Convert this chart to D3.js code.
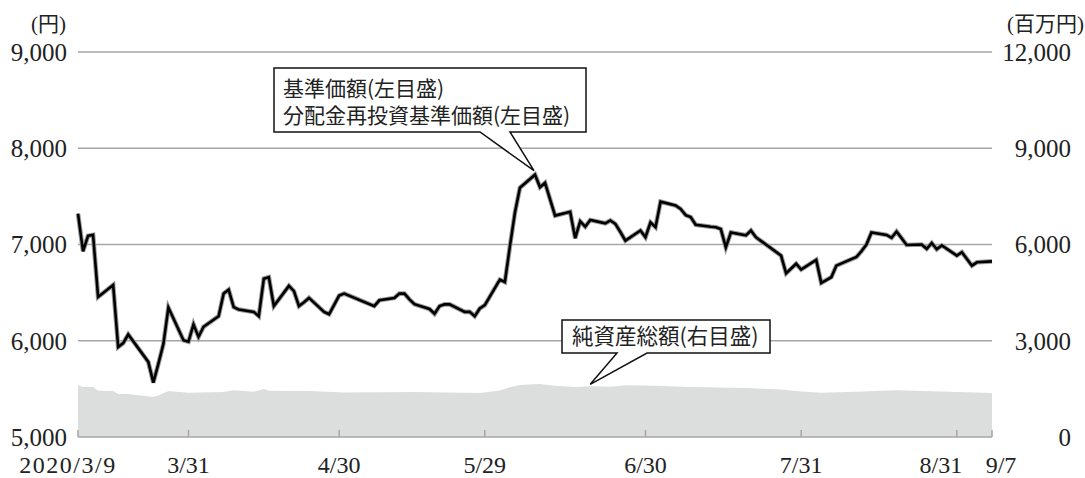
<!DOCTYPE html>
<meta charset="utf-8">
<script src="https://d3js.org/d3.v7.min.js"></script>
<style>
  body { margin: 0; background: #fff; }
</style>
<div id="chart"></div>
<script>

// 基準価額 (円), business days 2020
var navDates = ["3/9","3/10","3/11","3/12","3/13","3/16","3/17","3/18","3/19","3/23","3/24","3/25","3/26","3/27","3/30","3/31",
  "4/1","4/2","4/3","4/6","4/7","4/8","4/9","4/10","4/13","4/14","4/15","4/16","4/17","4/20","4/21","4/22","4/23","4/24","4/27","4/28","4/30",
  "5/1","5/7","5/8","5/11","5/12","5/13","5/14","5/15","5/18","5/19","5/20","5/21","5/22","5/25","5/26","5/27","5/28","5/29",
  "6/1","6/2","6/3","6/4","6/5","6/8","6/9","6/10","6/11","6/12","6/15","6/16","6/17","6/18","6/19","6/22","6/23","6/24","6/25","6/26","6/29","6/30",
  "7/1","7/2","7/3","7/6","7/7","7/8","7/9","7/10","7/13","7/14","7/15","7/16","7/17","7/20","7/21","7/22","7/27","7/28","7/29","7/30","7/31",
  "8/3","8/4","8/5","8/6","8/7","8/11","8/12","8/13","8/14","8/17","8/18","8/19","8/20","8/21","8/24","8/25","8/26","8/27","8/28","8/31",
  "9/1","9/2","9/3","9/4","9/7"];
var navValues = [7320,6930,7090,7100,6455,6580,5935,5975,6065,5780,5565,5760,5965,6345,6005,5990,
  6170,6040,6145,6255,6490,6530,6350,6325,6300,6255,6645,6660,6360,6570,6515,6360,6400,6445,6300,6275,6470,
  6490,6360,6420,6445,6490,6490,6430,6380,6330,6280,6360,6378,6378,6300,6300,6255,6335,6370,
  6635,6610,6980,7330,7590,7725,7595,7640,7470,7300,7340,7065,7240,7185,7255,7220,7250,7215,7130,7040,7145,7075,
  7230,7180,7445,7405,7370,7305,7285,7205,7185,7180,7160,6970,7125,7095,7145,7075,6885,6700,6750,6800,6740,
  6840,6600,6630,6660,6780,6870,6930,7000,7125,7100,7070,7135,7065,6995,7000,6955,7015,6950,6990,6885,
  6920,6850,6780,6815,6825];

// 純資産総額 (百万円)
var assetDates = ["3/9","3/10","3/12","3/13","3/16","3/17","3/19","3/24","3/25","3/27","3/31","4/7","4/9","4/13","4/15","4/16","4/24",
  "5/1","5/15","5/28","6/1","6/3","6/5","6/9","6/12","6/16","6/19","6/23","6/26","7/2","7/9","7/20","7/27","7/31",
  "8/4","8/11","8/19","8/31","9/7"];
var assetValues = [1620,1560,1560,1440,1430,1340,1340,1250,1290,1430,1380,1400,1460,1410,1500,1440,1430,
  1390,1400,1370,1450,1550,1620,1650,1600,1560,1580,1570,1610,1600,1560,1530,1480,1420,
  1380,1410,1460,1400,1370];

var tickDates = ["3/9","3/31","4/30","5/29","6/30","7/31","8/31","9/7"];
var tickLabels = ["2020/3/9","3/31","4/30","5/29","6/30","7/31","8/31","9/7"];
var leftTicks = [5000,6000,7000,8000,9000];
var rightTicks = [0,3000,6000,9000,12000];

var parseDay = function(s) { var p = s.split("/"); return new Date(2020, +p[0] - 1, +p[1]); };

var W = 1085, H = 478;
var svg = d3.select("#chart").append("svg").attr("width", W).attr("height", H);

var x = d3.scaleTime().domain([parseDay("3/9"), parseDay("9/7")]).range([78, 992]);
var yL = d3.scaleLinear().domain([5000, 9000]).range([437, 52]);
var yR = d3.scaleLinear().domain([0, 12000]).range([437, 52]);

var nav = navDates.map(function(d, i) { return {date: parseDay(d), value: navValues[i]}; });
var assets = assetDates.map(function(d, i) { return {date: parseDay(d), value: assetValues[i]}; });

var serif = "'Liberation Serif', 'Times New Roman', serif";
var sans = "'Noto Sans CJK JP', 'Noto Sans', sans-serif";

// area
svg.append("path")
  .datum(assets)
  .attr("fill", "#dcdddd")
  .attr("d", d3.area().x(function(d) { return x(d.date); }).y0(yR(0)).y1(function(d) { return yR(d.value); }));

// gridlines
svg.selectAll(".grid").data(leftTicks.slice(1)).enter().append("line")
  .attr("x1", x.range()[0]).attr("x2", x.range()[1])
  .attr("y1", function(d) { return yL(d); }).attr("y2", function(d) { return yL(d); })
  .attr("stroke", "#a6a6a6").attr("stroke-width", 1.5);

// bottom axis line + ticks
svg.append("line").attr("x1", x.range()[0]).attr("x2", x.range()[1])
  .attr("y1", yL(5000)).attr("y2", yL(5000)).attr("stroke", "#a6a6a6").attr("stroke-width", 1.5);
svg.selectAll(".tick").data(tickDates).enter().append("line")
  .attr("x1", function(d) { return x(parseDay(d)); }).attr("x2", function(d) { return x(parseDay(d)); })
  .attr("y1", yL(5000)).attr("y2", yL(5000) - 7)
  .attr("stroke", "#a6a6a6").attr("stroke-width", 1.5);

// nav lines (基準価額 / 分配金再投資基準価額 overlap)
var line = d3.line().x(function(d) { return x(d.date); }).y(function(d) { return yL(d.value); });
svg.append("path").datum(nav).attr("d", line)
  .attr("fill", "none").attr("stroke", "#9a9a9a").attr("stroke-width", 4.6).attr("stroke-linejoin", "miter");
svg.append("path").datum(nav).attr("d", line)
  .attr("fill", "none").attr("stroke", "#000").attr("stroke-width", 2.6).attr("stroke-linejoin", "miter");

// callouts
function callout(x0, y0, x1, y1, b1, b2, tip) {
  var p = "M" + x0 + "," + y0 + "H" + x1 + "V" + y1 + "H" + b2 + "L" + tip[0] + "," + tip[1] +
          "L" + b1 + "," + y1 + "H" + x0 + "Z";
  svg.append("path").attr("d", p).attr("fill", "#fff").attr("stroke", "#111").attr("stroke-width", 1.5);
}
var peak = nav[d3.maxIndex(nav, function(d) { return d.value; })];
callout(274, 68, 586, 132, 480, 510, [x(peak.date) - 1, yL(peak.value) - 4]);

var tipDate = parseDay("6/19");
var ai = d3.bisector(function(d) { return d.date; }).left(assets, tipDate);
var tipVal = assets[ai].value;
callout(562, 320, 770, 353, 617, 647, [x(tipDate), yR(tipVal) - 2]);

svg.append("text").attr("x", 283).attr("y", 96).style("font-family", sans).style("font-size", "21px")
  .attr("fill", "#222").text("基準価額(左目盛)");
svg.append("text").attr("x", 283).attr("y", 123).style("font-family", sans).style("font-size", "21px")
  .attr("fill", "#222").text("分配金再投資基準価額(左目盛)");
svg.append("text").attr("x", 572).attr("y", 344).style("font-family", sans).style("font-size", "21.5px")
  .attr("fill", "#222").text("純資産総額(右目盛)");

// left axis labels
svg.selectAll(".yl").data(leftTicks).enter().append("text")
  .attr("x", 67).attr("y", function(d) { return yL(d); }).attr("dy", "0.35em")
  .attr("text-anchor", "end").style("font-family", serif).style("font-size", "25px").attr("fill", "#222")
  .text(function(d) { return d3.format(",")(d); });

// right axis labels
svg.selectAll(".yr").data(rightTicks).enter().append("text")
  .attr("x", 1071).attr("y", function(d) { return yR(d); }).attr("dy", "0.35em")
  .attr("text-anchor", "end").style("font-family", serif).style("font-size", "25px").attr("fill", "#222")
  .text(function(d) { return d3.format(",")(d); });

// units
svg.append("text").attr("x", 66).attr("y", 31).attr("text-anchor", "end")
  .style("font-family", serif + ", " + sans).style("font-size", "21px").attr("fill", "#222").text("(円)");
svg.append("text").attr("x", 1084).attr("y", 31).attr("text-anchor", "end")
  .style("font-family", serif + ", " + sans).style("font-size", "21px").attr("fill", "#222").text("(百万円)");

// date labels
var shift = {"2020/3/9": -10, "8/31": -16, "9/7": 9};
svg.selectAll(".xl").data(tickDates).enter().append("text")
  .attr("x", function(d, i) { return x(parseDay(d)) + (shift[tickLabels[i]] || 0); })
  .attr("y", 473).attr("text-anchor", "middle")
  .style("font-family", serif).style("font-size", "24px").attr("fill", "#222")
  .style("letter-spacing", function(d, i) { return i === 0 ? "1.5px" : "0px"; })
  .text(function(d, i) { return tickLabels[i]; });

</script>
